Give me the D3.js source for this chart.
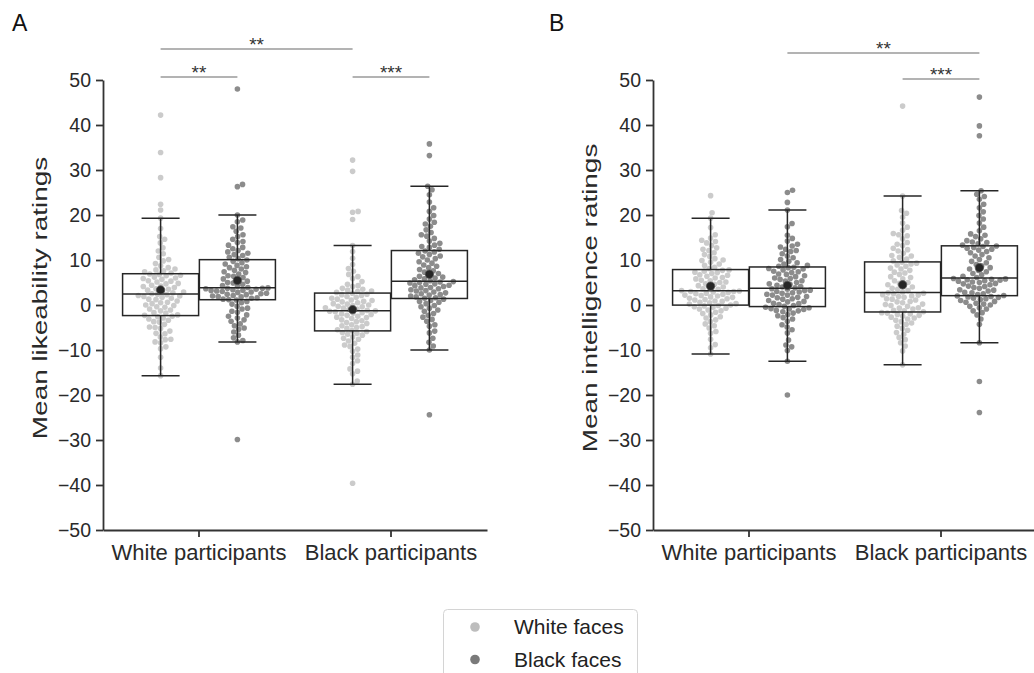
<!DOCTYPE html>
<html>
<head>
<meta charset="utf-8">
<script src="https://cdn.jsdelivr.net/npm/d3@7"></script>
<style>
  body { margin: 0; background: #fff; }
  svg { font-family: "Liberation Sans", Arial, sans-serif; }
</style>
</head>
<body>
<div id="chart"></div>
<script>
// categories on the x axis and the two face types (hue)
const categories = ["White participants", "Black participants"];
const hues = ["White faces", "Black faces"];
const yTicks = [-50, -40, -30, -20, -10, 0, 10, 20, 30, 40, 50];

const likeWW = [-15.7, -14.0, -11.6, -9.7, -9.3, -8.4, -8.2, -7.7, -7.6, -7.1, -6.4, -6.3, -5.8, -5.2, -5.0, -4.9, -4.3, -3.8, -3.7, -3.4, -3.1, -2.9, -2.6, -2.5,
  -2.3, -2.2, -1.8, -1.7, -1.3, -1.1, -0.9, -0.5, -0.4, -0.1, 0.0, 0.3, 0.5, 0.6, 0.9, 1.2, 1.3, 1.5, 1.7, 1.9, 2.0, 2.1, 2.3, 2.4,
  2.5, 2.7, 2.9, 3.0, 3.3, 3.5, 3.6, 3.9, 4.1, 4.2, 4.4, 4.7, 4.8, 5.1, 5.3, 5.4, 5.7, 5.9, 6.0, 6.2, 6.5, 6.6, 6.8, 6.9,
  7.1, 7.4, 7.6, 7.8, 8.0, 8.3, 8.7, 9.2, 9.8, 10.1, 10.6, 11.4, 12.0, 12.7, 13.8, 14.6, 15.2, 17.0, 19.3, 21.1, 22.4, 28.3, 33.9, 42.2];
const likeWB = [-29.9, -8.2, -7.9, -7.3, -6.7, -6.0, -5.4, -5.1, -4.6, -4.2, -3.6, -3.3, -2.9, -2.5, -2.2, -1.6, -1.4, -0.9, -0.7, -0.3, 0.2, 0.5, 0.8, 1.1,
  1.2, 1.3, 1.5, 1.6, 1.8, 1.9, 2.0, 2.1, 2.3, 2.4, 2.5, 2.6, 2.8, 2.9, 3.0, 3.1, 3.2, 3.3, 3.4, 3.5, 3.6, 3.7, 3.7, 3.8,
  3.9, 4.1, 4.3, 4.6, 4.9, 5.0, 5.3, 5.6, 5.8, 6.1, 6.4, 6.5, 6.9, 7.2, 7.4, 7.7, 8.0, 8.3, 8.5, 8.8, 9.1, 9.4, 9.7, 10.0,
  10.3, 10.6, 11.0, 11.2, 11.5, 11.8, 12.1, 12.5, 12.8, 13.3, 13.9, 14.1, 14.6, 15.2, 15.6, 16.4, 17.1, 17.4, 18.5, 18.9, 20.0, 26.3, 26.8, 48.0];
const likeBW = [-39.6, -17.6, -16.9, -15.3, -14.7, -14.2, -13.0, -12.4, -11.6, -11.1, -10.3, -9.8, -9.2, -8.9, -8.5, -8.0, -7.6, -7.4, -7.1, -6.7, -6.5, -6.3, -6.1, -5.9,
  -5.7, -5.5, -5.2, -5.0, -4.8, -4.6, -4.4, -4.1, -3.9, -3.7, -3.5, -3.3, -3.0, -2.8, -2.7, -2.5, -2.3, -2.1, -2.0, -1.8, -1.7, -1.5, -1.4, -1.3,
  -1.2, -1.0, -0.9, -0.7, -0.6, -0.4, -0.3, -0.1, 0.0, 0.2, 0.3, 0.5, 0.7, 0.8, 1.0, 1.1, 1.3, 1.5, 1.7, 1.9, 2.1, 2.3, 2.4, 2.6,
  2.8, 3.0, 3.1, 3.3, 3.5, 3.7, 4.1, 4.3, 4.6, 5.2, 5.9, 6.3, 6.8, 7.5, 8.1, 9.0, 10.4, 11.9, 13.2, 19.0, 20.6, 20.8, 29.7, 32.2];
const likeBB = [-24.4, -10.0, -9.1, -8.3, -7.4, -6.2, -5.8, -4.7, -4.4, -3.6, -3.2, -2.7, -2.3, -1.9, -1.4, -1.1, -0.7, -0.4, -0.1, 0.3, 0.6, 0.8, 1.0, 1.3,
  1.5, 1.6, 1.8, 2.0, 2.2, 2.3, 2.5, 2.7, 2.9, 3.1, 3.2, 3.4, 3.6, 3.8, 3.9, 4.1, 4.3, 4.4, 4.6, 4.7, 4.9, 5.0, 5.1, 5.2,
  5.4, 5.6, 5.8, 6.0, 6.2, 6.4, 6.7, 7.0, 7.3, 7.6, 7.9, 8.3, 8.6, 8.9, 9.3, 9.6, 10.0, 10.3, 10.7, 10.9, 11.2, 11.5, 11.8, 12.0,
  12.4, 12.8, 13.0, 13.3, 13.7, 14.2, 14.8, 15.3, 15.6, 16.1, 16.7, 17.5, 18.0, 18.4, 19.1, 19.9, 20.8, 21.6, 22.9, 24.5, 25.6, 26.4, 33.2, 35.8];

// B: mean intelligence ratings
const intelWW = [-10.9, -9.5, -8.8, -7.6, -6.3, -5.9, -5.1, -4.6, -4.2, -3.7, -3.3, -2.9, -2.6, -2.2, -1.9, -1.6, -1.3, -1.1, -0.9, -0.7, -0.5, -0.4, -0.2, -0.1,
  0.0, 0.2, 0.3, 0.5, 0.6, 0.8, 0.9, 1.1, 1.2, 1.4, 1.5, 1.7, 1.8, 2.0, 2.1, 2.2, 2.4, 2.5, 2.6, 2.8, 2.9, 3.0, 3.0, 3.1,
  3.2, 3.5, 3.6, 3.9, 4.0, 4.3, 4.6, 4.7, 5.0, 5.1, 5.4, 5.5, 5.8, 6.0, 6.1, 6.4, 6.6, 6.7, 7.0, 7.2, 7.3, 7.5, 7.7, 7.8,
  8.1, 8.4, 8.8, 9.1, 9.5, 9.9, 10.0, 10.3, 10.8, 11.2, 11.6, 12.1, 12.4, 12.7, 13.2, 13.8, 14.1, 14.4, 14.9, 15.6, 17.2, 19.3, 20.5, 24.3];
const intelWB = [-20.0, -12.5, -10.1, -9.3, -8.9, -7.8, -6.2, -5.5, -4.9, -4.4, -3.6, -3.1, -2.8, -2.4, -2.1, -1.8, -1.5, -1.3, -1.2, -1.0, -0.9, -0.8, -0.6, -0.5,
  -0.3, -0.1, 0.1, 0.3, 0.4, 0.7, 0.8, 1.0, 1.3, 1.4, 1.6, 1.7, 1.9, 2.2, 2.2, 2.4, 2.6, 2.7, 2.9, 3.0, 3.2, 3.3, 3.5, 3.6,
  3.8, 4.0, 4.1, 4.4, 4.6, 4.7, 5.0, 5.3, 5.4, 5.7, 5.9, 6.0, 6.3, 6.5, 6.8, 6.9, 7.2, 7.4, 7.5, 7.8, 8.0, 8.1, 8.3, 8.4,
  8.6, 8.8, 9.1, 9.4, 9.7, 10.1, 10.5, 10.9, 11.4, 11.9, 12.1, 12.4, 12.9, 13.1, 13.5, 14.2, 14.8, 15.5, 17.4, 18.1, 21.1, 22.8, 25.0, 25.5];
const intelBW = [-13.3, -10.2, -9.1, -8.4, -7.7, -7.2, -6.5, -6.1, -5.6, -5.2, -4.7, -4.3, -4.0, -3.7, -3.4, -3.1, -2.9, -2.7, -2.5, -2.3, -2.1, -2.0, -1.8, -1.7,
  -1.5, -1.3, -1.2, -0.9, -0.7, -0.6, -0.3, -0.1, 0.1, 0.2, 0.5, 0.7, 0.8, 1.1, 1.3, 1.4, 1.7, 1.9, 2.0, 2.2, 2.3, 2.5, 2.6, 2.7,
  2.9, 3.2, 3.5, 3.7, 4.0, 4.1, 4.5, 4.8, 5.0, 5.4, 5.8, 6.1, 6.3, 6.8, 7.1, 7.3, 7.7, 8.0, 8.2, 8.6, 8.9, 9.1, 9.3, 9.5,
  9.8, 10.2, 10.6, 10.9, 11.0, 11.5, 12.0, 12.3, 12.6, 13.2, 13.5, 13.9, 14.7, 15.4, 15.6, 15.9, 16.6, 17.3, 18.2, 19.5, 20.4, 21.0, 24.2, 44.2];
const intelBB = [-23.9, -17.0, -8.4, -4.3, -3.1, -2.2, -1.7, -1.3, -0.9, -0.6, -0.3, 0.0, 0.2, 0.4, 0.6, 0.8, 1.0, 1.2, 1.4, 1.5, 1.7, 1.8, 1.9, 2.0,
  2.1, 2.3, 2.5, 2.7, 2.8, 3.1, 3.3, 3.4, 3.7, 3.9, 4.1, 4.2, 4.5, 4.7, 4.8, 5.0, 5.1, 5.3, 5.4, 5.5, 5.6, 5.7, 5.8, 5.9,
  6.1, 6.4, 6.7, 7.0, 7.4, 7.7, 8.0, 8.3, 8.7, 9.0, 9.4, 9.7, 10.1, 10.5, 10.9, 11.2, 11.6, 11.9, 12.2, 12.4, 12.6, 12.8, 13.0, 13.1,
  13.3, 13.6, 13.9, 14.0, 14.3, 14.7, 15.2, 15.5, 15.8, 16.5, 17.3, 18.2, 19.1, 19.9, 20.7, 21.6, 22.4, 23.5, 24.1, 24.6, 25.4, 37.6, 39.8, 46.2];

// significance brackets: [category index, hue index] pairs, level 0 = upper
const likeSig = [
  { from: [0, 0], to: [1, 0], level: 0, label: "**" },
  { from: [0, 0], to: [0, 1], level: 1, label: "**" },
  { from: [1, 0], to: [1, 1], level: 1, label: "***" }
];
const intelSig = [
  { from: [0, 1], to: [1, 1], level: 0, label: "**" },
  { from: [1, 0], to: [1, 1], level: 1, label: "***" }
];

const hueColors = ["#cbcbcb", "#8c8c8c"];
const legendColors = ["#bdbdbd", "#7a7a7a"];

const W = 1034, H = 673;
const svg = d3.select("#chart").append("svg")
  .attr("width", W).attr("height", H)
  .style("background", "#fff");

const plotTop = 80, plotBottom = 530, plotWidth = 384;
const y = d3.scaleLinear().domain([-50, 50]).range([plotBottom, plotTop]);

const panels = [
  { letter: "A", title: "Mean likeability ratings", left: 103, letterX: 12, titleX: 40,
    groups: [[likeWW, likeWB], [likeBW, likeBB]], sig: likeSig, levelY: [49, 77] },
  { letter: "B", title: "Mean intelligence ratings", left: 653, letterX: 549, titleX: 590,
    groups: [[intelWW, intelWB], [intelBW, intelBB]], sig: intelSig, levelY: [53, 79] }
];

// simple beeswarm like seaborn: place sorted points at the offset closest to centre
function swarm(values, r, half) {
  const d = 2 * r;
  const placed = [];
  values.slice().sort(d3.ascending).forEach(v => {
    const py = y(v);
    const near = placed.filter(q => Math.abs(q.py - py) < d);
    const cands = [0];
    near.forEach(q => {
      const dx = Math.sqrt(d * d - (q.py - py) ** 2);
      cands.push(q.dx + dx, q.dx - dx);
    });
    cands.sort((a, b) => Math.abs(a) - Math.abs(b));
    const off = cands.find(c => near.every(q => (c - q.dx) ** 2 + (q.py - py) ** 2 >= d * d - 1e-6));
    placed.push({ v: v, py: py, dx: off });
  });
  placed.forEach(p => { p.dx = Math.max(-half, Math.min(half, p.dx)); });
  return placed;
}

function boxStats(values) {
  const s = values.slice().sort(d3.ascending);
  const q1 = d3.quantileSorted(s, 0.25), med = d3.quantileSorted(s, 0.5), q3 = d3.quantileSorted(s, 0.75);
  const iqr = q3 - q1;
  const lo = d3.min(s.filter(v => v >= q1 - 1.5 * iqr));
  const hi = d3.max(s.filter(v => v <= q3 + 1.5 * iqr));
  return { q1, med, q3, lo, hi, mean: d3.mean(s) };
}

function drawPanel(p) {
  const g = svg.append("g");

  const x = d3.scaleBand().domain(categories).range([p.left, p.left + plotWidth]);
  const hx = d3.scaleBand().domain(hues).range([-0.4 * x.bandwidth(), 0.4 * x.bandwidth()]);
  const cx = (ci, hi) => x(categories[ci]) + x.bandwidth() / 2 + hx(hues[hi]) + hx.bandwidth() / 2;
  const boxW = hx.bandwidth() * 0.99;

  // axes
  const yAxis = d3.axisLeft(y).tickValues(yTicks).tickSize(7).tickSizeOuter(0).tickPadding(5);
  const xAxis = d3.axisBottom(x).tickSize(7).tickSizeOuter(0).tickPadding(7);

  const ya = g.append("g").attr("transform", `translate(${p.left},0)`).call(yAxis);
  const xa = g.append("g").attr("transform", `translate(0,${plotBottom})`).call(xAxis);
  [ya, xa].forEach(a => {
    a.selectAll("path, line").attr("stroke", "#333").attr("stroke-width", 1.8);
    a.selectAll("text").attr("fill", "#2a2a2a").style("font-size", "19.5px");
  });
  xa.selectAll("text").style("font-size", "22px");

  // the y title in the figure is drawn wide along its reading direction
  g.append("text")
    .attr("transform", `translate(${p.titleX},${(plotTop + plotBottom) / 2 - 7}) rotate(-90) scale(1.33,1)`)
    .attr("text-anchor", "middle")
    .attr("dy", "0.35em")
    .attr("fill", "#2a2a2a")
    .style("font-size", "21px")
    .text(p.title);

  g.append("text")
    .attr("x", p.letterX).attr("y", 31)
    .attr("fill", "#111")
    .style("font-size", "23px")
    .text(p.letter);

  const groups = [];
  p.groups.forEach((pair, ci) => pair.forEach((vals, hi) => {
    groups.push({ ci, hi, vals, stats: boxStats(vals), c: cx(ci, hi) });
  }));

  // box fills
  g.selectAll(".boxfill").data(groups).enter().append("rect")
    .attr("x", d => d.c - boxW / 2)
    .attr("width", boxW)
    .attr("y", d => y(d.stats.q3))
    .attr("height", d => y(d.stats.q1) - y(d.stats.q3))
    .attr("fill", "#fff");

  // swarm points
  const r = 2.8;
  groups.forEach(d => {
    const pts = swarm(d.vals, r, boxW / 2 - 1);
    g.append("g").selectAll("circle").data(pts).enter().append("circle")
      .attr("cx", q => d.c + q.dx)
      .attr("cy", q => q.py)
      .attr("r", r)
      .attr("fill", hueColors[d.hi]);
  });

  // box outlines, medians, whiskers
  const line = "#262626";
  groups.forEach(d => {
    const s = d.stats, bg = g.append("g").attr("stroke", line).attr("fill", "none").attr("stroke-width", 1.5);
    bg.append("rect")
      .attr("x", d.c - boxW / 2).attr("width", boxW)
      .attr("y", y(s.q3)).attr("height", y(s.q1) - y(s.q3));
    bg.append("line").attr("x1", d.c - boxW / 2).attr("x2", d.c + boxW / 2)
      .attr("y1", y(s.med)).attr("y2", y(s.med));
    bg.append("line").attr("x1", d.c).attr("x2", d.c).attr("y1", y(s.q3)).attr("y2", y(s.hi));
    bg.append("line").attr("x1", d.c).attr("x2", d.c).attr("y1", y(s.q1)).attr("y2", y(s.lo));
    [s.hi, s.lo].forEach(v => bg.append("line")
      .attr("x1", d.c - boxW / 4).attr("x2", d.c + boxW / 4)
      .attr("y1", y(v)).attr("y2", y(v)));
    g.append("circle")
      .attr("cx", d.c).attr("cy", y(s.mean)).attr("r", 4.2)
      .attr("fill", "#262626").attr("stroke", "#555").attr("stroke-width", 0.8);
  });

  // significance brackets
  p.sig.forEach(s => {
    const x1 = cx(s.from[0], s.from[1]), x2 = cx(s.to[0], s.to[1]);
    const ly = p.levelY[s.level];
    g.append("line")
      .attr("x1", x1).attr("x2", x2).attr("y1", ly).attr("y2", ly)
      .attr("stroke", "#9a9a9a").attr("stroke-width", 1.5);
    g.append("text")
      .attr("x", (x1 + x2) / 2).attr("y", ly + 2)
      .attr("text-anchor", "middle")
      .attr("fill", "#333")
      .style("font-size", "19px")
      .text(s.label);
  });
}

panels.forEach(drawPanel);

// legend
const lg = svg.append("g");
lg.append("rect")
  .attr("x", 443.5).attr("y", 609.5).attr("width", 194).attr("height", 90).attr("rx", 4)
  .attr("fill", "#fff").attr("stroke", "#d4d4d4").attr("stroke-width", 1);
hues.forEach((h, i) => {
  lg.append("circle").attr("cx", 475).attr("cy", 627 + i * 32.5).attr("r", 4.8).attr("fill", legendColors[i]);
  lg.append("text").attr("x", 514).attr("y", 627 + i * 32.5).attr("dy", "0.35em")
    .attr("fill", "#222").style("font-size", "21px").text(h);
});
</script>
</body>
</html>
